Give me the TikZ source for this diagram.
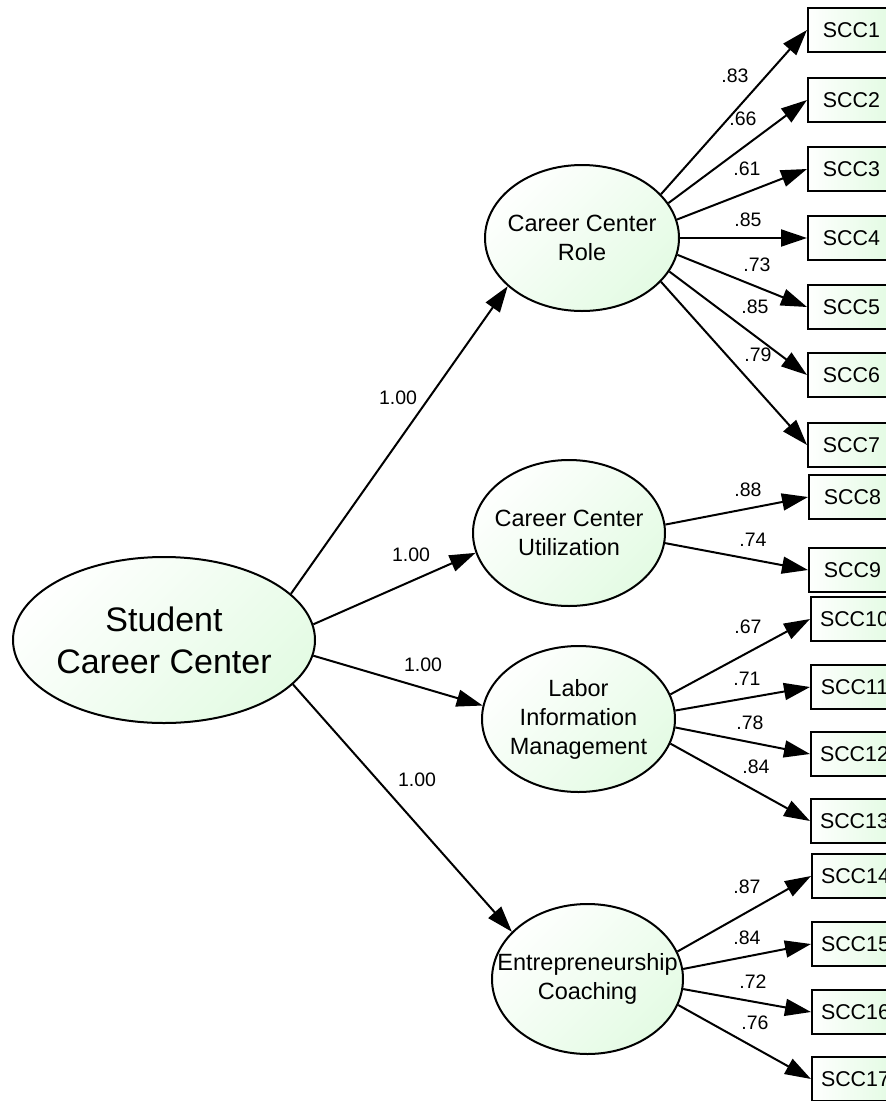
\documentclass[tikz,border=0pt]{standalone}
\usepackage{fontspec}
\setmainfont{Liberation Sans}
\usetikzlibrary{shapes.geometric,arrows.meta}
\definecolor{fillA}{RGB}{254,255,254}
\definecolor{fillB}{RGB}{228,251,228}
\tikzset{
  lat/.style={ellipse, draw=black, line width=2pt, inner sep=0pt,
    top color=fillA, bottom color=fillB, shading angle=45},
  lattext/.style={font=\fontsize{23.5}{29}\selectfont, align=center, inner sep=0pt},
  bigtext/.style={font=\fontsize{34}{42}\selectfont, align=center, inner sep=0pt},
  obs/.style={rectangle, draw=black, line width=2pt, inner xsep=0pt, inner ysep=0pt,
    minimum width=79pt, minimum height=44pt, anchor=west,
    left color=fillA, right color=fillB, font=\fontsize{21.4}{25}\selectfont},
  arr/.style={line width=2pt, -{Triangle[length=26pt,width=17pt]}},
  coef/.style={font=\fontsize{19.5}{22}\selectfont, inner sep=0pt},
}
\begin{document}
\begin{tikzpicture}[x=1pt,y=-1pt]
\useasboundingbox (0,0) rectangle (886,1101);
% latent variables
\node[lat, minimum width=302pt, minimum height=166pt,
  label={[bigtext]center:Student\\Career Center}] (scc) at (164,640) {};
\node[lat, minimum width=194pt, minimum height=146pt,
  label={[lattext]center:Career Center\\Role}] (ccr) at (582,238) {};
\node[lat, minimum width=192pt, minimum height=146pt,
  label={[lattext]center:Career Center\\Utilization}] (ccu) at (569,533) {};
\node[lat, minimum width=193pt, minimum height=146pt,
  label={[lattext]center:Labor\\Information\\Management}] (lim) at (578.5,719) {};
\node[lat, minimum width=191pt, minimum height=150pt,
  label={[lattext]center:Entrepreneurship\\Coaching}] (ec) at (587.5,979) {};
% observed variables
\node[obs] (b1) at (807,30) {\hspace*{8pt}SCC1};
\node[obs] (b2) at (807,100) {\hspace*{8pt}SCC2};
\node[obs] (b3) at (807,169) {\hspace*{8pt}SCC3};
\node[obs] (b4) at (807,238) {\hspace*{8pt}SCC4};
\node[obs] (b5) at (807,307) {\hspace*{8pt}SCC5};
\node[obs] (b6) at (807,375) {\hspace*{8pt}SCC6};
\node[obs] (b7) at (807,445) {\hspace*{8pt}SCC7};
\node[obs] (b8) at (808,497) {\hspace*{8pt}SCC8};
\node[obs] (b9) at (808,570) {\hspace*{8pt}SCC9};
\node[obs] (b10) at (810,619) {\hspace*{8pt}SCC10};
\node[obs] (b11) at (810,687) {\hspace*{8pt}SCC11};
\node[obs] (b12) at (810,754) {\hspace*{8pt}SCC12};
\node[obs] (b13) at (810,821) {\hspace*{8pt}SCC13};
\node[obs] (b14) at (811,876) {\hspace*{8pt}SCC14};
\node[obs] (b15) at (811,944) {\hspace*{8pt}SCC15};
\node[obs] (b16) at (811,1012) {\hspace*{8pt}SCC16};
\node[obs] (b17) at (811,1079) {\hspace*{8pt}SCC17};
% second-order paths
\draw[arr] (scc.20) -- (ccr.213);
\draw[arr] (scc.6.5) -- (ccu.192);
\draw[arr] (scc.-6.5) -- (lim.172);
\draw[arr] (scc.-19) -- (ec.148);
% first-order paths
\draw[arr] (ccr.29.4) -- (b1.west);
\draw[arr] (ccr.22.2) -- (b2.west);
\draw[arr] (ccr.11.9) -- (b3.west);
\draw[arr] (ccr.0) -- (b4.west);
\draw[arr] (ccr.-10) -- (b5.west);
\draw[arr] (ccr.-21) -- (b6.west);
\draw[arr] (ccr.-29) -- (b7.west);
\draw[arr] (ccu.5) -- (b8.west);
\draw[arr] (ccu.-6) -- (b9.west);
\draw[arr] (lim.15.5) -- (b10.west);
\draw[arr] (lim.5.3) -- (b11.west);
\draw[arr] (lim.-5.3) -- (b12.west);
\draw[arr] (lim.-15.5) -- (b13.west);
\draw[arr] (ec.17) -- (b14.west);
\draw[arr] (ec.6) -- (b15.west);
\draw[arr] (ec.-6) -- (b16.west);
\draw[arr] (ec.-16) -- (b17.west);
% coefficients
\node[coef] (l1) at (398,398) {1.00};
\node[coef] (l2) at (411,555) {1.00};
\node[coef] (l3) at (423,665) {1.00};
\node[coef] (l4) at (417,780) {1.00};
\node[coef] (c1) at (735,76) {.83};
\node[coef] (c2) at (743,119) {.66};
\node[coef] (c3) at (747,169) {.61};
\node[coef] (c4) at (748,220) {.85};
\node[coef] (c5) at (757,265) {.73};
\node[coef] (c6) at (755,307) {.85};
\node[coef] (c7) at (758,355) {.79};
\node[coef] (c8) at (748,490) {.88};
\node[coef] (c9) at (753,540) {.74};
\node[coef] (c10) at (748,627) {.67};
\node[coef] (c11) at (747,679) {.71};
\node[coef] (c12) at (750,723) {.78};
\node[coef] (c13) at (756,767) {.84};
\node[coef] (c14) at (747,887) {.87};
\node[coef] (c15) at (747,938) {.84};
\node[coef] (c16) at (753,982) {.72};
\node[coef] (c17) at (755,1023) {.76};
\end{tikzpicture}
\end{document}
